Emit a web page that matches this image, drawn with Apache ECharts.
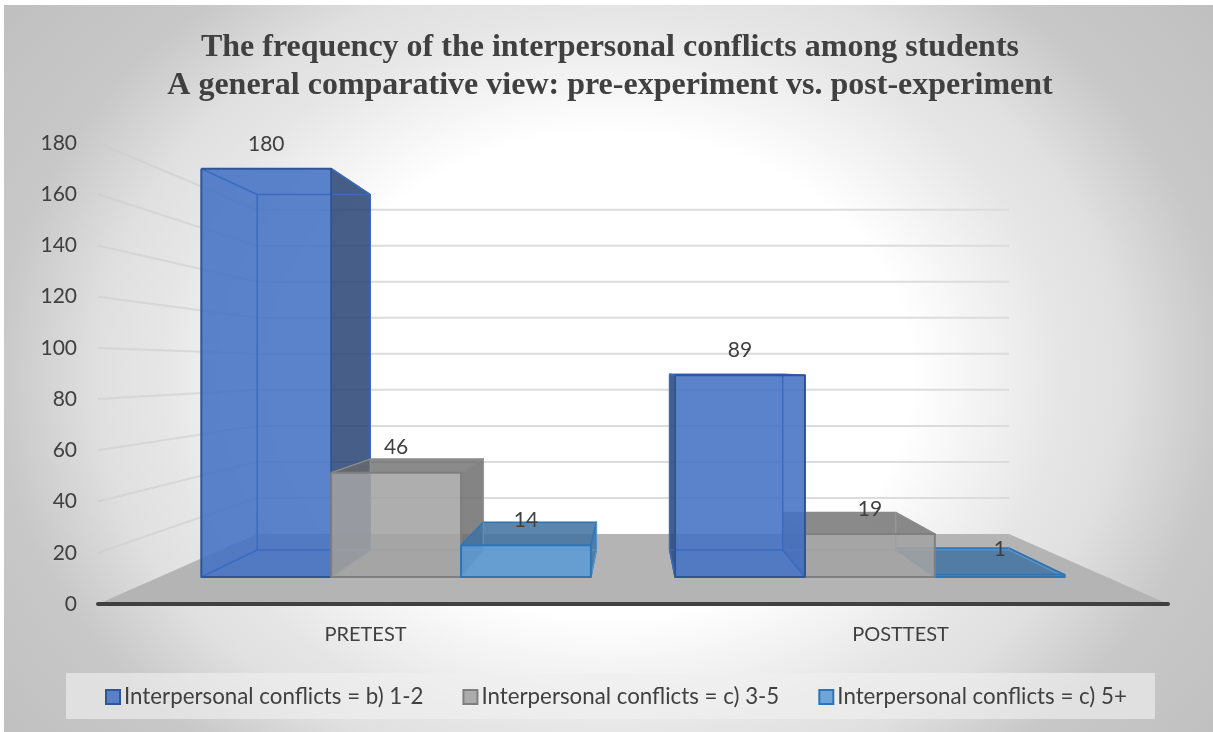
<!DOCTYPE html>
<html>
<head>
<meta charset="utf-8">
<style>html,body{margin:0;padding:0;background:#fff}#chart{width:1213px;height:732px}</style>
<script src="https://cdn.jsdelivr.net/npm/echarts@6/dist/echarts.min.js"></script>
</head>
<body>
<div id="chart"></div>
<script>
// Chart values
const categories = ['PRETEST', 'POSTTEST'];
const seriesNames = [
  'Interpersonal conflicts = b) 1-2',
  'Interpersonal conflicts = c) 3-5',
  'Interpersonal conflicts = c) 5+'
];
const conflicts12 = [180, 89];
const conflicts35 = [46, 19];
const conflicts5p = [14, 1];
const yTicks = [20, 40, 60, 80, 100, 120, 140, 160, 180];

// One-point perspective: depth factors for the bars' near and far planes and the back wall
const VANISH_Y = 368;
const NEAR = 0.8856, FAR = 0.771, WALL = 0.703;
const BAR_SHARE = 0.2741;
// The backdrop gradient is an ellipse: a circle drawn in a frame stretched sideways
const BACKDROP_STRETCH = 1.25;

const palette = [
  { front: 'rgba(68,114,196,0.88)', side: 'rgba(41,68,118,0.86)', top: 'rgba(68,114,196,0.88)', edge: '#2f5597', inner: '#3a6bc0', soft: '#3a6bc0', softWidth: 1.5 },
  { front: 'rgba(163,163,163,0.88)', side: 'rgba(105,105,105,0.82)', top: 'rgba(105,105,105,0.78)', edge: '#7f7f7f', inner: '#8a8a8a', soft: '#9e9e9e', softWidth: 1 },
  { front: 'rgba(91,155,213,0.88)', side: 'rgba(68,116,160,0.88)', top: 'rgba(68,116,160,0.88)', edge: '#2e75b6', inner: '#2e75b6', soft: '#5d9ad2', softWidth: 1 }
];

function projector(params) {
  const vx = params.coordSys.x + params.coordSys.width / 2;
  return (x, y, s) => [vx + (x - vx) * s, VANISH_Y + (y - VANISH_Y) * s];
}

function renderBar(seriesIdx) {
  return function (params, api) {
    const project = projector(params);
    const cat = api.value(0), val = api.value(1);
    const [cx, y0] = api.coord([cat, 0]);
    const y1 = api.coord([cat, val])[1];
    const w = api.size([1, 0])[0] * BAR_SHARE;
    const xl = cx + (seriesIdx - 1.5) * w, xr = xl + w;
    const colors = palette[seriesIdx];
    // Pretest boxes stack left to right, posttest boxes right to left
    const base = (cat === 0 ? seriesIdx : 2 - seriesIdx) * 10 + 10;

    const nbl = project(xl, y0, NEAR), nbr = project(xr, y0, NEAR);
    const ntl = project(xl, y1, NEAR), ntr = project(xr, y1, NEAR);
    const fbl = project(xl, y0, FAR), fbr = project(xr, y0, FAR);
    const ftl = project(xl, y1, FAR), ftr = project(xr, y1, FAR);

    const poly = (points, fill, z2) => ({ type: 'polygon', z2: base + z2, silent: true, shape: { points }, style: { fill, stroke: 'none' } });
    const line = (points, stroke, width, z2) => ({ type: 'polyline', z2: base + z2, silent: true, shape: { points }, style: { fill: 'none', stroke, lineWidth: width, lineJoin: 'round' } });

    const children = [];
    // Only faces that stick out past the front rectangle get their own fill
    if (ftl[0] < ntl[0]) {
      children.push(poly([ntl, ftl, fbl, nbl], colors.side, 0));
      children.push(line([ntl, ftl, fbl, nbl], colors.edge, 1.5, 3));
    }
    if (ftr[0] > ntr[0]) {
      children.push(poly([ntr, ftr, fbr, nbr], colors.side, 0));
      children.push(line([ntr, ftr, fbr, nbr], colors.edge, 1.5, 3));
    }
    if (ftl[1] < ntl[1]) {
      children.push(poly([ntl, ntr, ftr, ftl], colors.top, 1));
    }
    children.push(poly([ntl, ntr, nbr, nbl], colors.front, 2));
    // Edges of the box's top, then the fainter edges behind the front face
    children.push(line([ntl, ftl, ftr, ntr], colors.inner, 1.5, 3));
    children.push(line([ftl, fbl, fbr, ftr], colors.soft, colors.softWidth, 3));
    children.push(line([nbl, fbl], colors.soft, colors.softWidth, 3));
    children.push(line([nbr, fbr], colors.soft, colors.softWidth, 3));
    children.push(line([ntl, ntr, nbr, nbl, ntl], colors.edge, 2, 4));
    children.push({
      type: 'text', z2: 100, silent: true,
      style: { x: (ntl[0] + ntr[0]) / 2, y: ntl[1] - 25, text: String(val), align: 'center', verticalAlign: 'middle', font: '21px Lato', fill: '#404040' }
    });
    return { type: 'group', children };
  };
}

function renderFloor(params) {
  const project = projector(params);
  const c = params.coordSys, y = c.y + c.height, xr = c.x + c.width;
  return {
    type: 'polygon', silent: true, z2: 0,
    shape: { points: [[c.x, y], [xr, y], project(xr, y, WALL), project(c.x, y, WALL)] },
    style: { fill: '#b4b4b4' }
  };
}

function renderGridLine(params, api) {
  const project = projector(params);
  const c = params.coordSys;
  const y = api.coord([0, api.value(1)])[1];
  const corner = project(c.x, y, WALL);
  return {
    type: 'group',
    children: [
      { type: 'line', silent: true, z2: 1, shape: { x1: c.x, y1: y, x2: corner[0], y2: corner[1] }, style: { stroke: 'rgba(205,205,205,0.6)', lineWidth: 2 } },
      { type: 'line', silent: true, z2: 1, shape: { x1: corner[0], y1: corner[1], x2: project(c.x + c.width, y, WALL)[0], y2: corner[1] }, style: { stroke: '#dcdcdc', lineWidth: 2 } }
    ]
  };
}

const barValues = [conflicts12, conflicts35, conflicts5p];
const barSeries = seriesNames.map((name, i) => ({
  type: 'custom',
  name,
  coordinateSystem: 'cartesian2d',
  clip: false,
  renderItem: renderBar(i),
  encode: { x: 0, y: 1 },
  itemStyle: { color: palette[i].front, borderColor: palette[i].edge, borderWidth: 2 },
  data: barValues[i].map((v, c) => [c, v])
}));

const chart = echarts.init(document.getElementById('chart'), null, { renderer: 'canvas' });
chart.setOption({
  animation: false,
  backgroundColor: '#ffffff',
  title: {
    text: 'The frequency of the interpersonal conflicts among students\nA general comparative view: pre-experiment vs. post-experiment',
    left: 605, top: 24, textAlign: 'center',
    textStyle: { fontFamily: 'Liberation Serif', fontWeight: 'bold', fontSize: 32, lineHeight: 38, color: '#404040' }
  },
  graphic: [
    {
      type: 'rect', z: -2, silent: true,
      scaleX: BACKDROP_STRETCH,
      shape: { x: 4 / BACKDROP_STRETCH, y: 5, width: 1209 / BACKDROP_STRETCH, height: 727 },
      style: {
        fill: new echarts.graphic.RadialGradient(610 / BACKDROP_STRETCH, 375, 620, [
          { offset: 0, color: '#ffffff' },
          { offset: 0.39, color: '#ffffff' },
          { offset: 0.58, color: '#e6e6e6' },
          { offset: 0.66, color: '#e0e0e0' },
          { offset: 0.79, color: '#c8c8c8' },
          { offset: 1, color: '#bfbfbf' }
        ], true)
      }
    },
    {
      type: 'rect', z: -1, silent: true,
      shape: { x: 66, y: 673, width: 1089, height: 46 },
      style: { fill: 'rgba(239,239,239,0.64)' }
    }
  ],
  grid: { left: 98, right: 45, top: 143, bottom: 128 },
  legend: {
    data: seriesNames,
    left: 100, top: 681,
    icon: 'rect', itemWidth: 14, itemHeight: 14, itemGap: 39,
    textStyle: { fontFamily: 'Lato', fontSize: 22.3, color: '#404040', padding: [0, 0, 0, -1] }
  },
  xAxis: {
    type: 'category',
    z: 5,
    data: categories,
    axisTick: { show: false },
    axisLine: { lineStyle: { color: '#404040', width: 4, cap: 'round' } },
    axisLabel: { fontFamily: 'Lato', fontSize: 20, color: '#404040', margin: 21 }
  },
  yAxis: {
    type: 'value', min: 0, max: 180, interval: 20,
    axisLine: { show: false }, axisTick: { show: false }, splitLine: { show: false },
    axisLabel: { fontFamily: 'Lato', fontSize: 21, color: '#404040', margin: 21 }
  },
  series: [
    { type: 'custom', name: 'floor', coordinateSystem: 'cartesian2d', clip: false, renderItem: renderFloor, data: [[0, 0]], z: 1 },
    { type: 'custom', name: 'grid', coordinateSystem: 'cartesian2d', clip: false, renderItem: renderGridLine, data: yTicks.map(v => [0, v]), encode: { x: 0, y: 1 }, z: 1 }
  ].concat(barSeries)
});
</script>
</body>
</html>
